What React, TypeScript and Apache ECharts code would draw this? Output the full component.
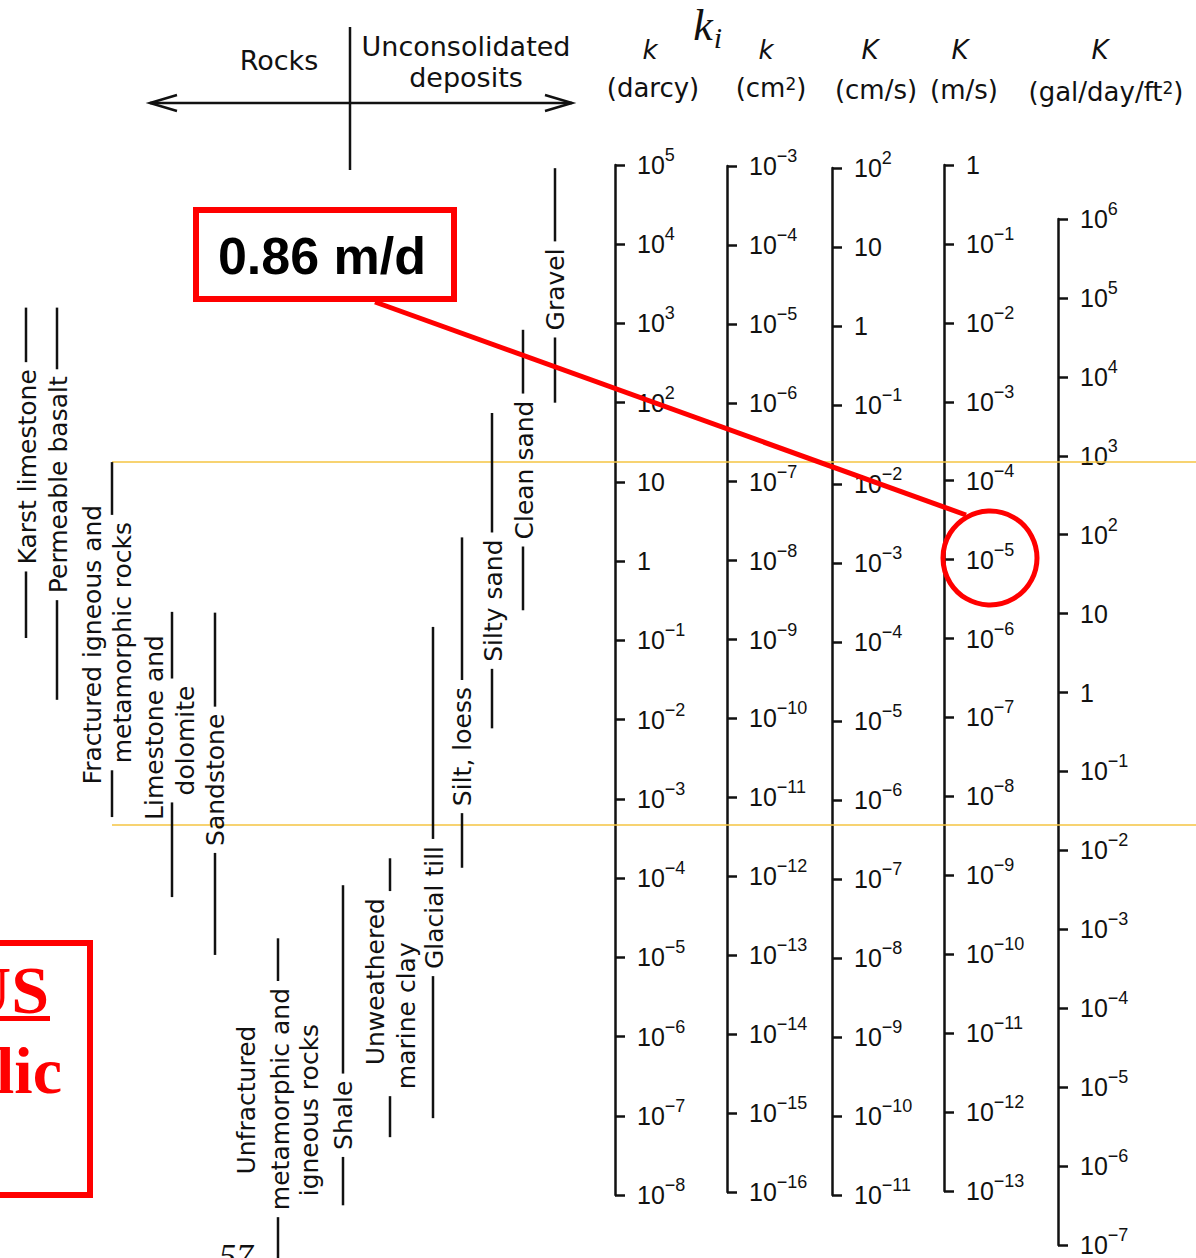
import React, { useEffect, useRef } from 'react';
import * as echarts from 'echarts';

// ---------- DATA ----------
// Parallel scales (exponents of 10)
const scaleSymbols = ['k', 'k', 'K', 'K', 'K'];
const scaleUnits = ['(darcy)', '(cm{s|2})', '(cm/s)', '(m/s)', '(gal/day/ft{s|2})'];
const scaleMinExp = [-8, -16, -11, -13, -7];
const scaleMaxExp = [5, -3, 2, 0, 6];

// Rock / deposit ranges, as log10(k in darcy)
const rockNames = [
  ['Karst limestone'],
  ['Permeable basalt'],
  ['Fractured igneous and', 'metamorphic rocks'],
  ['Limestone and', 'dolomite'],
  ['Sandstone'],
  ['Unfractured', 'metamorphic and', 'igneous rocks'],
  ['Shale'],
  ['Unweathered', 'marine clay'],
  ['Glacial till'],
  ['Silt, loess'],
  ['Silty sand'],
  ['Clean sand'],
  ['Gravel'],
];
const rockHigh = [3.2, 3.2, 1.25, -0.64, -0.65, -4.76, -4.09, -3.75, -0.83, 0.3, 1.87, 2.92, 4.96];
const rockLow = [-0.97, -1.75, -3.23, -4.24, -4.97, -9.5, -8.13, -7.27, -7.03, -3.87, -2.11, -0.62, 2.0];

// Highlight band (log10 darcy)
const yellowLevels = [1.25, -3.33];

// Annotation
const annotationText = '0.86 m/d';

// ---------- LAYOUT ----------
const W = 1196;
const H = 1258;
const INK = '#111111';
const RED = '#ff0000';
const LABEL_FONT = '25px "DejaVu Sans"';
const PAD = 7;

const scaleLineX = [615, 727, 832, 944, 1058];
const scaleTop = [165, 166, 168, 165, 219];
const scaleBottom = [1195, 1192, 1195, 1191, 1245];
const symbolX = [650, 766, 870, 960, 1100];
const unitX = [653, 771, 876, 964, 1106];
const unitY = [88, 88, 90, 90, 92];

const rockLayout = [
  { x: 26, lx: [27], dy: [-6], gap: 0 },
  { x: 57, lx: [58], dy: [-19], gap: 0 },
  { x: 112, lx: [92, 122], dy: [5, 3], gap: 1 },
  { x: 172, lx: [154, 185], dy: [-27, -14], gap: 1 },
  { x: 215, lx: [215], dy: [-4], gap: 0 },
  { x: 278, lx: [246, 280, 309], dy: [-26, -27, -16], gap: 1 },
  { x: 343, lx: [343], dy: [70], gap: 0 },
  { x: 390, lx: [375, 406], dy: [-16, 18], gap: -1 },
  { x: 433, lx: [434], dy: [35], gap: 0 },
  { x: 462, lx: [462], dy: [44], gap: 0 },
  { x: 492, lx: [493], dy: [30], gap: 0 },
  { x: 523, lx: [524], dy: [0], gap: 0 },
  { x: 555, lx: [555], dy: [4], gap: 0 },
];

let measureCtx: CanvasRenderingContext2D | null = null;
function textLen(s: string): number {
  if (!measureCtx) measureCtx = document.createElement('canvas').getContext('2d');
  if (!measureCtx) return s.length * 14;
  measureCtx.font = LABEL_FONT;
  return measureCtx.measureText(s).width;
}

function expLabel(v: number): string {
  const n = Math.round(v);
  if (n === 0) return '{b|1}';
  if (n === 1) return '{b|10}';
  return `{b|10}{s|${n < 0 ? '−' : ''}${Math.abs(n)}}`;
}

function seg(x: number, y1: number, y2: number) {
  return {
    type: 'line',
    shape: { x1: x, y1, x2: x, y2 },
    style: { stroke: INK, lineWidth: 2.5 },
  };
}

function buildOption() {
  const grids: any[] = [
    { left: 0, top: scaleTop[0], width: W, height: scaleBottom[0] - scaleTop[0], outerBoundsMode: 'none' },
  ];
  const xAxes: any[] = [{ gridIndex: 0, type: 'value', min: 0, max: W, show: false }];
  const yAxes: any[] = [{ gridIndex: 0, type: 'value', min: -8, max: 5, show: false }];

  scaleLineX.forEach((x, i) => {
    grids.push({
      left: x,
      top: scaleTop[i],
      width: 80,
      height: scaleBottom[i] - scaleTop[i],
      outerBoundsMode: 'none',
    });
    xAxes.push({ gridIndex: i + 1, type: 'value', min: 0, max: 1, show: false });
    yAxes.push({
      gridIndex: i + 1,
      type: 'value',
      min: scaleMinExp[i],
      max: scaleMaxExp[i],
      interval: 1,
      position: 'left',
      axisLine: { show: true, onZero: false, lineStyle: { color: INK, width: 2.5 } },
      axisTick: { show: true, inside: true, length: 10, lineStyle: { color: INK, width: 2.5 } },
      splitLine: { show: false },
      axisLabel: {
        inside: true,
        margin: 22,
        showMinLabel: true,
        showMaxLabel: true,
        color: INK,
        formatter: expLabel,
        rich: {
          b: { fontSize: 25, lineHeight: 38, fontFamily: 'Liberation Sans', color: INK },
          s: { fontSize: 18, lineHeight: 18, verticalAlign: 'top', fontFamily: 'Liberation Sans', color: INK },
        },
      },
    });
  });

  const rockData = rockHigh.map((h, i) => [i, h, rockLow[i]]);

  const series: any[] = [
    {
      type: 'custom',
      xAxisIndex: 0,
      yAxisIndex: 0,
      clip: false,
      silent: true,
      z: 5,
      data: rockData,
      renderItem: (params: any, api: any) => {
        const i = api.value(0) as number;
        const L = rockLayout[i];
        const top = api.coord([L.x, api.value(1)]);
        const bot = api.coord([L.x, api.value(2)]);
        const mid = (top[1] + bot[1]) / 2;
        const children: any[] = [];
        let gTop = Infinity;
        let gBot = -Infinity;
        rockNames[i].forEach((name, j) => {
          const cy = mid + L.dy[j];
          const len = textLen(name);
          if (L.gap === -1 || L.gap === j) {
            gTop = Math.min(gTop, cy - len / 2 - PAD);
            gBot = Math.max(gBot, cy + len / 2 + PAD);
          }
          children.push({
            type: 'text',
            x: L.lx[j],
            y: cy,
            rotation: Math.PI / 2,
            style: {
              text: name,
              font: LABEL_FONT,
              fill: INK,
              align: 'center',
              verticalAlign: 'middle',
              textAlign: 'center',
              textVerticalAlign: 'middle',
            },
          });
        });
        if (gTop > top[1]) children.push(seg(top[0], top[1], gTop));
        if (gBot < bot[1]) children.push(seg(top[0], gBot, bot[1]));
        return { type: 'group', children };
      },
    },
  ];

  yellowLevels.forEach((lv) => {
    series.push({
      type: 'line',
      xAxisIndex: 0,
      yAxisIndex: 0,
      symbol: 'none',
      silent: true,
      z: 3,
      lineStyle: { color: '#f4c542', width: 1.5 },
      data: [
        [112, lv],
        [W, lv],
      ],
    });
  });

  const hdrText = (text: string, x: number, y: number, extra: any = {}) => ({
    type: 'text',
    x,
    y,
    z: 50,
    style: {
      text,
      font: '26px "DejaVu Sans"',
      fill: INK,
      align: 'center',
      verticalAlign: 'middle',
      textAlign: 'center',
      textVerticalAlign: 'middle',
      rich: {
        s: { fontSize: 17, fontFamily: 'DejaVu Sans', verticalAlign: 'top', lineHeight: 18, fill: INK, color: INK },
      },
      ...extra,
    },
  });

  const graphic: any[] = [
    // Header cross with arrows
    { type: 'line', z: 50, shape: { x1: 350, y1: 27, x2: 350, y2: 170 }, style: { stroke: INK, lineWidth: 2.5 } },
    { type: 'line', z: 50, shape: { x1: 150, y1: 103, x2: 572, y2: 103 }, style: { stroke: INK, lineWidth: 2.5 } },
    { type: 'polyline', z: 50, shape: { points: [[177, 95], [150, 103], [177, 111]] }, style: { stroke: INK, lineWidth: 2.5, fill: 'none' } },
    { type: 'polyline', z: 50, shape: { points: [[545, 95], [572, 103], [545, 111]] }, style: { stroke: INK, lineWidth: 2.5, fill: 'none' } },
    hdrText('Rocks', 279, 60, { font: '27px "DejaVu Sans"' }),
    hdrText('Unconsolidated', 466, 46, { font: '27px "DejaVu Sans"' }),
    hdrText('deposits', 466, 77, { font: '27px "DejaVu Sans"' }),
    // k_i
    hdrText('k', 703, 25, { font: 'italic 44px "Liberation Serif"' }),
    hdrText('i', 718, 37, { font: 'italic 30px "Liberation Serif"' }),
  ];
  scaleSymbols.forEach((s, i) => {
    graphic.push(hdrText(s, symbolX[i], 50, { font: 'italic 26px "DejaVu Sans"' }));
    graphic.push(hdrText(scaleUnits[i], unitX[i], unitY[i]));
  });

  // Red annotation
  graphic.push(
    { type: 'rect', z: 90, shape: { x: 196, y: 210, width: 258, height: 89 }, style: { fill: '#ffffff', stroke: RED, lineWidth: 6 } },
    {
      type: 'text', z: 91, x: 322, y: 256,
      style: { text: annotationText, font: 'bold 52px "Liberation Sans"', fill: '#000', align: 'center', verticalAlign: 'middle', textAlign: 'center', textVerticalAlign: 'middle' },
    },
    { type: 'line', z: 92, shape: { x1: 375, y1: 302, x2: 966, y2: 515 }, style: { stroke: RED, lineWidth: 5 } },
    { type: 'circle', z: 92, shape: { cx: 990, cy: 558, r: 47 }, style: { fill: 'none', stroke: RED, lineWidth: 5 } },
    // bottom-left cut-off red box
    { type: 'rect', z: 90, shape: { x: -30, y: 943, width: 120, height: 252 }, style: { fill: 'none', stroke: RED, lineWidth: 6 } },
    {
      type: 'text', z: 91, x: 49, y: 990,
      style: { text: 'US', font: 'bold 68px "Liberation Serif"', fill: RED, align: 'right', verticalAlign: 'middle', textAlign: 'right', textVerticalAlign: 'middle' },
    },
    { type: 'rect', z: 91, shape: { x: 0, y: 1016, width: 50, height: 5 }, style: { fill: RED } },
    {
      type: 'text', z: 91, x: 62, y: 1070,
      style: { text: 'lic', font: 'bold 66px "Liberation Serif"', fill: RED, align: 'right', verticalAlign: 'middle', textAlign: 'right', textVerticalAlign: 'middle' },
    },
    // page number, cut off at the bottom as in the source
    {
      type: 'text', z: 50, x: 236, y: 1238,
      style: { text: '57', font: 'italic 34px "Liberation Serif"', fill: INK, align: 'center', verticalAlign: 'top', textAlign: 'center', textVerticalAlign: 'top' },
    }
  );

  return {
    animation: false,
    backgroundColor: '#ffffff',
    textStyle: { fontFamily: 'DejaVu Sans' },
    grid: grids,
    xAxis: xAxes,
    yAxis: yAxes,
    series,
    graphic: { elements: graphic },
  };
}

export default function App() {
  const ref = useRef<HTMLDivElement>(null);
  useEffect(() => {
    if (!ref.current) return;
    const chart = echarts.init(ref.current, null, { renderer: 'svg' });
    chart.setOption(buildOption() as any);
    return () => chart.dispose();
  }, []);
  return (
    <div
      ref={ref}
      style={{ position: 'absolute', left: 0, top: 0, width: W, height: H, background: '#fff' }}
    />
  );
}
